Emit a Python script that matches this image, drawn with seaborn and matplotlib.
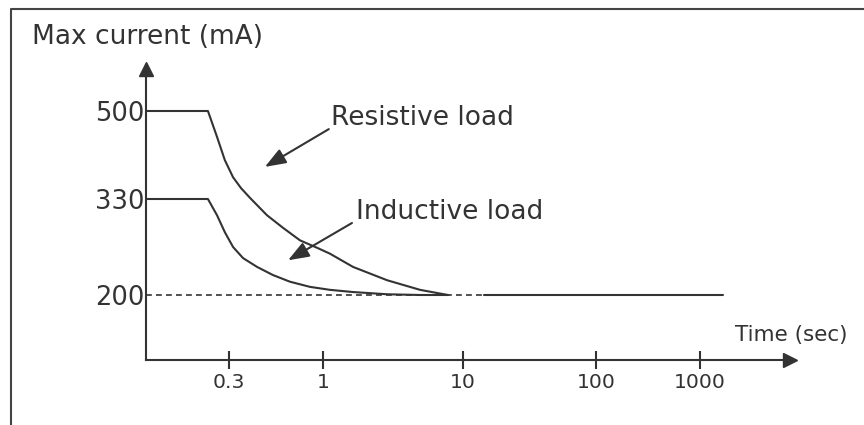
import numpy as np
import pandas as pd
import matplotlib
matplotlib.use("Agg")
import matplotlib.pyplot as plt
import seaborn as sns

sns.set_style("white")
plt.rcParams['font.family'] = ['DejaVu Sans']

INK = '#333333'

# Curves (time in s, current in mA)
resistive_time = [0.1, 0.227, 0.256, 0.284, 0.316, 0.350, 0.393, 0.488, 0.599, 0.745, 0.926, 1.12, 1.64, 2.87, 4.93, 7.81]
resistive_ma = [500, 500, 450, 405, 372, 351, 332, 308, 291, 274, 264, 256, 238, 220, 207, 200]
inductive_time = [0.1, 0.227, 0.256, 0.284, 0.316, 0.359, 0.430, 0.527, 0.655, 0.847, 1.12, 1.64, 2.87, 4.93, 7.81]
inductive_ma = [330, 330, 308, 285, 265, 250, 238, 227, 218, 211, 207, 204, 201, 200, 200]

# 200 mA floor: dashed part then solid part
floor_ma = 200
floor_dashed = [0.1, 13.9]
floor_solid = [14.4, 1300]

x_ticks = [0.3, 1, 10, 100, 1000]
x_tick_labels = ['0.3', '1', '10', '100', '1000']
y_ticks = [200, 330, 500]
y_tick_labels = ['200', '330', '500']

# schematic (not-to-scale) axes: piecewise mapping value -> pixel
X_LOG = np.log10([0.1, 0.3, 1, 10, 100, 1000, 3000])
X_PX = np.array([146, 229, 323, 463, 596, 700, 797])
Y_VAL = np.array([100, 200, 330, 500, 600])
Y_PX = np.array([0, 65, 161, 249, 298])


def fwd_x(t):
    return np.interp(np.log10(np.clip(np.asarray(t, float), 1e-6, None)), X_LOG, X_PX)


def inv_x(p):
    return 10 ** np.interp(np.asarray(p, float), X_PX, X_LOG)


def fwd_y(v):
    return np.interp(np.asarray(v, float), Y_VAL, Y_PX)


def inv_y(p):
    return np.interp(np.asarray(p, float), Y_PX, Y_VAL)


df = pd.concat([
    pd.DataFrame({'time': resistive_time, 'current': resistive_ma, 'load': 'Resistive load'}),
    pd.DataFrame({'time': inductive_time, 'current': inductive_ma, 'load': 'Inductive load'}),
])

W, H = 864, 425
fig = plt.figure(figsize=(W / 100, H / 100), dpi=100)
ax = fig.add_axes([146 / W, (H - 360) / H, (790 - 146) / W, (360 - 69) / H])

sns.lineplot(data=df, x='time', y='current', units='load', estimator=None, sort=False,
             color=INK, lw=1.5, ax=ax, clip_on=False)
ax.plot(floor_dashed, [floor_ma] * 2, color=INK, lw=1.2, dashes=(3.5, 2.5), clip_on=False)
ax.plot(floor_solid, [floor_ma] * 2, color=INK, lw=1.5, clip_on=False)

ax.set_xscale('function', functions=(fwd_x, inv_x))
ax.set_yscale('function', functions=(fwd_y, inv_y))
ax.set_xlim(0.1, float(inv_x(790)))
ax.set_ylim(100, float(inv_y(291)))

ax.set_xticks(x_ticks)
ax.set_xticklabels(x_tick_labels)
ax.set_yticks(y_ticks)
ax.set_yticklabels(y_tick_labels)
ax.minorticks_off()
ax.tick_params(axis='x', direction='inout', length=13, width=1.5, pad=2.5,
               labelsize=14.7, colors=INK, bottom=True)
ax.tick_params(axis='y', length=0, pad=1, labelsize=18.5, colors=INK, left=True)
ax.set_xlabel('')
ax.set_ylabel('')

sns.despine(ax=ax)
for side in ['left', 'bottom']:
    ax.spines[side].set_color(INK)
    ax.spines[side].set_linewidth(1.5)

# arrow heads on the axes
ax.plot(1, 0, '>', color=INK, ms=10, transform=ax.transAxes, clip_on=False)
ax.plot(0, 1, '^', color=INK, ms=10, transform=ax.transAxes, clip_on=False)

# labels with pointer arrows
arrow_kw = dict(arrowstyle='-|>,head_length=0.85,head_width=0.32', mutation_scale=15,
                color=INK, lw=1.5, shrinkA=0, shrinkB=0)
ax.annotate('', xy=(0.475, 392), xytext=(1.10, 465), arrowprops=arrow_kw)
ax.annotate('', xy=(0.639, 247), xytext=(1.61, 297.5), arrowprops=arrow_kw)
ax.text(1.14, 486.5, 'Resistive load', fontsize=19, color=INK, ha='left', va='center')
ax.text(1.72, 312, 'Inductive load', fontsize=19, color=INK, ha='left', va='center')

fig.text(32 / W, 1 - 37 / H, 'Max current (mA)', fontsize=19, color=INK, ha='left', va='center')
fig.text(791 / W, 1 - 335 / H, 'Time (sec)', fontsize=15.5, color=INK, ha='center', va='center')

# frame around the drawing (left and top edges visible)
fig.add_artist(plt.Line2D([11 / W, 11 / W, 1.0], [0.0, 1 - 9 / H, 1 - 9 / H],
                          transform=fig.transFigure, color='#444444', lw=1.5))

fig.savefig('out.png', dpi=100)
